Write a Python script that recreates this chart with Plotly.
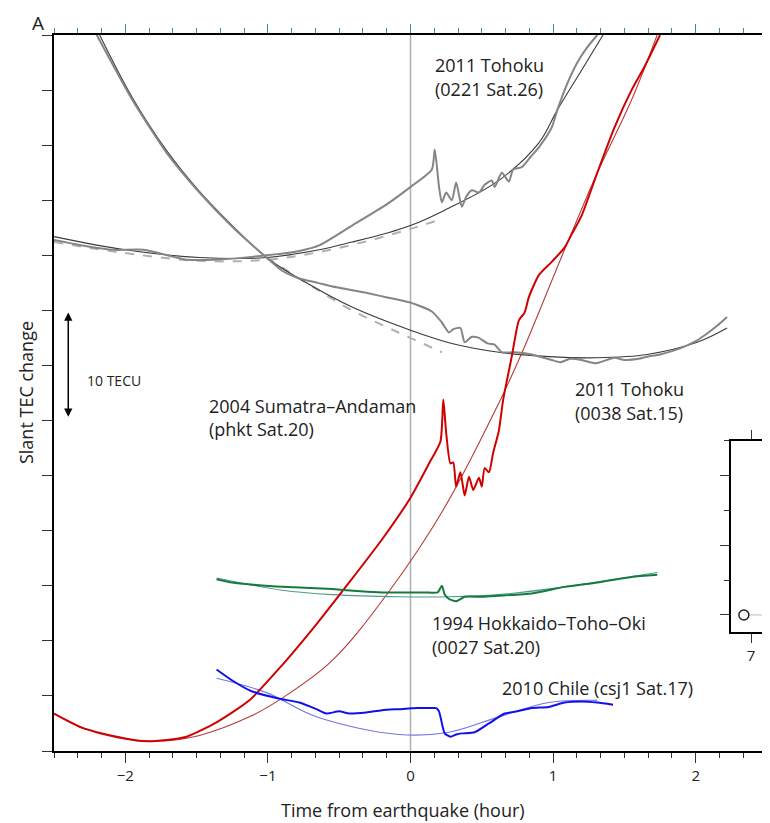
import plotly.graph_objects as go

# ---------------- data (time in hours, slant TEC in TECU) ----------------
# 2011 Tohoku (0221 Sat.26)
toh221_obs_t = [-2.5, -2.3, -2.08, -1.87, -1.57, -1.38, -1.01, -0.78, -0.64, -0.41, -0.17, 0.01, 0.15,
                0.17, 0.20, 0.22, 0.25, 0.29, 0.32, 0.36, 0.39, 0.43, 0.48, 0.52, 0.57, 0.59, 0.64, 0.69,
                0.72, 0.78, 0.84, 0.90, 0.99, 1.03, 1.10, 1.17, 1.24, 1.31]
toh221_obs_y = [46.4, 45.9, 45.5, 45.5, 44.6, 44.6, 45.0, 45.4, 45.9, 47.7, 49.6, 51.3, 52.8,
                54.6, 51.2, 49.8, 50.7, 50.0, 51.6, 49.4, 50.3, 50.9, 50.7, 51.4, 51.8, 51.2, 52.5, 51.7,
                52.8, 53.0, 53.9, 54.8, 56.6, 58.2, 60.6, 62.5, 63.9, 65.0]
toh221_fit_t = [-2.5, -2.0, -1.48, -1.01, -0.64, -0.41, -0.17, 0.0, 0.24, 0.62, 0.90, 1.03, 1.19, 1.35]
toh221_fit_y = [46.7, 45.5, 44.8, 44.8, 45.5, 46.2, 47.0, 47.7, 49.1, 51.8, 55.2, 58.2, 61.6, 65.0]
toh221_ref_t = [-2.5, -2.0, -1.48, -1.0, -0.64, -0.3, 0.0, 0.22]
toh221_ref_y = [46.2, 45.2, 44.5, 44.6, 45.3, 46.3, 47.4, 48.3]

# 2011 Tohoku (0038 Sat.15)
toh038_obs_t = [-2.2, -1.95, -1.71, -1.48, -1.25, -1.01, -0.90, -0.78, -0.65, -0.52, -0.35, -0.17, 0.0,
                0.15, 0.22, 0.27, 0.30, 0.35, 0.38, 0.43, 0.48, 0.54, 0.59, 0.64, 0.73, 0.85, 0.99, 1.05,
                1.12, 1.20, 1.30, 1.43, 1.50, 1.60, 1.66, 1.75, 1.90, 2.00, 2.08, 2.15, 2.22]
toh038_obs_y = [65.0, 59.1, 54.3, 50.7, 47.6, 44.8, 43.6, 42.9, 42.5, 42.1, 41.7, 41.2, 40.7,
                39.9, 38.9, 38.0, 38.3, 38.4, 37.1, 37.6, 37.5, 37.0, 36.9, 36.2, 36.2, 36.0, 35.5, 35.3,
                35.6, 35.5, 35.2, 35.7, 35.5, 35.6, 35.8, 36.0, 36.6, 37.2, 37.9, 38.6, 39.4]
toh038_fit_t = [-2.18, -1.95, -1.71, -1.48, -1.25, -1.01, -0.73, -0.41, 0.0, 0.29, 0.62, 0.97, 1.31,
                1.66, 2.01, 2.22]
toh038_fit_y = [65.0, 59.3, 54.5, 50.8, 47.7, 44.8, 42.5, 40.3, 38.2, 37.0, 36.2, 35.8, 35.7,
                36.0, 37.1, 38.4]
toh038_ref_t = [-1.01, -0.78, -0.41, -0.17, 0.0, 0.22]
toh038_ref_y = [44.8, 42.9, 40.0, 38.5, 37.5, 36.2]

# 2004 Sumatra-Andaman (phkt Sat.20)
sum_obs_t = [-2.5, -2.3, -2.06, -1.88, -1.71, -1.57, -1.36, -1.13, -0.90, -0.66, -0.43, -0.20, 0.0,
             0.13, 0.21, 0.23, 0.25, 0.28, 0.30, 0.32, 0.35, 0.38, 0.41, 0.44, 0.48, 0.50, 0.52,
             0.55, 0.58, 0.62, 0.65, 0.71, 0.76, 0.80, 0.83, 0.90, 0.99, 1.08, 1.13, 1.20, 1.31,
             1.43, 1.55, 1.64, 1.75]
sum_obs_y = [3.4, 2.1, 1.3, 0.9, 1.0, 1.3, 2.6, 4.6, 7.8, 11.5, 15.3, 19.2, 23.0,
             26.1, 28.1, 31.9, 28.9, 26.1, 26.2, 24.0, 25.3, 23.2, 24.9, 23.7, 24.8, 24.0, 25.7,
             25.3, 27.1, 29.1, 31.9, 35.8, 39.1, 39.8, 41.2, 43.2, 44.4, 45.7, 46.9, 48.6, 52.5,
             56.6, 60.0, 62.1, 65.0]
sum_fit_t = [-2.5, -2.3, -2.06, -1.85, -1.65, -1.48, -1.13, -0.90, -0.55, -0.15, 0.23, 0.62,
             0.78, 1.08, 1.31, 1.55, 1.73]
sum_fit_y = [3.4, 2.1, 1.2, 0.9, 1.0, 1.4, 3.1, 4.8, 8.2, 14.5, 21.9, 31.6,
             36.1, 45.5, 52.5, 59.1, 65.0]

# 1994 Hokkaido-Toho-Oki (0027 Sat.20)
hok_obs_t = [-1.36, -1.25, -1.10, -0.90, -0.70, -0.55, -0.35, -0.20, -0.08, 0.10, 0.19, 0.22, 0.24,
             0.27, 0.32, 0.38, 0.50, 0.62, 0.85, 1.08, 1.31, 1.55, 1.73]
hok_obs_y = [15.6, 15.3, 15.1, 14.9, 14.8, 14.7, 14.5, 14.4, 14.4, 14.4, 14.4, 15.0, 14.2,
             13.8, 13.6, 14.0, 14.0, 14.1, 14.3, 14.9, 15.3, 15.8, 16.0]
hok_fit_t = [-1.36, -0.90, -0.55, -0.08, 0.27, 0.62, 1.08, 1.73]
hok_fit_y = [15.7, 14.6, 14.2, 14.0, 14.0, 14.2, 14.9, 16.2]

# 2010 Chile (csj1 Sat.17)
chi_obs_t = [-1.36, -1.25, -1.11, -0.97, -0.90, -0.78, -0.66, -0.59, -0.50, -0.43, -0.31, -0.20, -0.08,
             0.05, 0.15, 0.18, 0.20, 0.24, 0.28, 0.32, 0.36, 0.45, 0.55, 0.66, 0.75, 0.85, 0.97, 1.08,
             1.20, 1.31, 1.42]
chi_obs_y = [7.4, 6.4, 5.4, 4.9, 4.7, 4.4, 3.8, 3.4, 3.6, 3.4, 3.5, 3.7, 3.8,
             3.9, 3.9, 3.9, 3.6, 1.6, 1.3, 1.5, 1.6, 1.7, 2.5, 3.4, 3.6, 3.9, 4.0, 4.4,
             4.5, 4.4, 4.2]
chi_fit_t = [-1.36, -1.01, -0.66, -0.08, 0.27, 0.62, 0.97, 1.31]
chi_fit_y = [6.6, 5.3, 3.1, 1.5, 1.7, 3.1, 4.4, 4.6]

# axis ticks
x_tickvals = [-2, -1, 0, 1, 2]
x_ticktext = ['\u22122', '\u22121', '0', '1', '2']

# inset (partially visible)
inset_pt_x = [6.82]
inset_pt_y = [0]
inset_line_x = [6.95, 7.5]
inset_line_y = [0, 0]

FONT = 'Open Sans'
fig = go.Figure()


def add(x, y, color, width, dash=None, shape='linear', smoothing=1.0):
    line = dict(color=color, width=width, dash=dash, shape=shape)
    if shape == 'spline':
        line['smoothing'] = smoothing
    fig.add_trace(go.Scatter(x=x, y=y, mode='lines', line=line, hoverinfo='skip', showlegend=False))


# dashed reference curves
add(toh221_ref_t, toh221_ref_y, '#b0b0b0', 2, 'dash', 'spline')
add(toh038_ref_t, toh038_ref_y, '#b0b0b0', 2, 'dash', 'spline')
# fits
add(toh221_fit_t, toh221_fit_y, '#3a3a3a', 1.1, None, 'spline')
add(toh038_fit_t, toh038_fit_y, '#3a3a3a', 1.1, None, 'spline')
add(sum_fit_t, sum_fit_y, '#b83a3a', 1.1, None, 'spline')
add(hok_fit_t, hok_fit_y, '#4f9a8c', 1.1, None, 'spline')
add(chi_fit_t, chi_fit_y, '#7474e8', 1.1, None, 'spline')
# observations
add(toh221_obs_t, toh221_obs_y, '#858585', 2, None, 'spline', 0.6)
add(toh038_obs_t, toh038_obs_y, '#858585', 2, None, 'spline', 0.6)
add(sum_obs_t, sum_obs_y, '#d00000', 2, None, 'spline', 0.6)
add(hok_obs_t, hok_obs_y, '#157a3c', 2, None, 'spline', 0.6)
add(chi_obs_t, chi_obs_y, '#1010ee', 2, None, 'spline', 0.6)

# invisible trace to show the top axis
fig.add_trace(go.Scatter(x=[0], y=[0], xaxis='x3', yaxis='y', mode='markers',
                         marker=dict(opacity=0), hoverinfo='skip', showlegend=False))

# inset traces
fig.add_trace(go.Scatter(x=inset_line_x, y=inset_line_y, xaxis='x2', yaxis='y2', mode='lines',
                         line=dict(color='#bbbbbb', width=1), hoverinfo='skip', showlegend=False))
fig.add_trace(go.Scatter(x=inset_pt_x, y=inset_pt_y, xaxis='x2', yaxis='y2', mode='markers',
                         marker=dict(symbol='circle-open', size=10, color='#222',
                                     line=dict(width=1.5, color='#222')),
                         hoverinfo='skip', showlegend=False))

# vertical line at earthquake time
fig.add_shape(type='line', x0=0, x1=0, y0=0, y1=1, xref='x', yref='paper',
              line=dict(color='#b0b0b0', width=1.5), layer='below')

axis_common = dict(showgrid=False, zeroline=False, showline=True, linecolor='black', linewidth=2)

# the page adds an 8px body margin, so the figure is 8px smaller than the window
fig.update_layout(
    width=762, height=815,
    margin=dict(l=46, r=1, t=27, b=72),
    plot_bgcolor='white', paper_bgcolor='white', showlegend=False,
    font=dict(family=FONT, size=15, color='#222'),
    xaxis=dict(domain=[0, 1], anchor='y', range=[-2.5, 2.5], tickvals=x_tickvals, ticktext=x_ticktext,
               ticks='outside', ticklen=10, tickwidth=1.2, tickcolor='#333',
               minor=dict(dtick=1 / 6, tick0=0, ticks='outside', ticklen=5, tickwidth=1, tickcolor='#333'),
               tickfont=dict(size=15, family=FONT), **axis_common),
    xaxis3=dict(overlaying='x', side='top', anchor='y', range=[-2.5, 2.5], tickvals=x_tickvals,
                showticklabels=False, ticks='outside', ticklen=9, tickwidth=1.2, tickcolor='#3b8f8f',
                minor=dict(dtick=1 / 6, tick0=0, ticks='outside', ticklen=5, tickwidth=1, tickcolor='#3b8f8f'),
                **axis_common),
    yaxis=dict(domain=[0, 1], anchor='x', range=[0, 65], dtick=5, tick0=0, showticklabels=False,
               ticks='outside', ticklen=10, tickwidth=1.2, tickcolor='#333', mirror=True, **axis_common),
    xaxis2=dict(domain=[0.9497, 1.0], anchor='y2', range=[6.5, 7.4], tickvals=[7], ticktext=['7'],
                ticks='outside', ticklen=9, tickwidth=1.2, tickcolor='#333', mirror='ticks',
                tickfont=dict(size=15, family=FONT), **axis_common),
    yaxis2=dict(domain=[0.1662, 0.433], anchor='x2', range=[-0.245, 2.5], dtick=1, tick0=0,
                showticklabels=False, ticks='outside', ticklen=9, tickwidth=1.2, tickcolor='#333',
                minor=dict(dtick=0.5, tick0=0, ticks='outside', ticklen=5, tickwidth=1, tickcolor='#333'),
                mirror=True, **axis_common),
)

LBL = dict(family=FONT, size=18, color='#222')


def label(x, y, text, size=18):
    fig.add_annotation(x=x, y=y, xref='x', yref='y', text=text, showarrow=False,
                       xanchor='left', yanchor='middle', font=dict(family=FONT, size=size, color='#222'))


label(0.155, 62.28, '2011 Tohoku')
label(0.155, 60.1, '(0221 Sat.26)')
label(1.14, 32.86, '2011 Tohoku')
label(1.14, 30.69, '(0038 Sat.15)')
label(-1.425, 31.32, '2004 Sumatra\u2013Andaman')
label(-1.425, 29.23, '(phkt Sat.20)')
label(0.135, 11.62, '1994 Hokkaido\u2013Toho\u2013Oki')
label(0.135, 9.44, '(0027 Sat.20)')
label(0.63, 5.72, '2010 Chile (csj1 Sat.17)')
label(-2.285, 33.59, '10 TECU', size=14)

# 10 TECU scale arrow
fig.add_annotation(x=-2.40, y=39.8, ax=-2.40, ay=30.2, xref='x', yref='y', axref='x', ayref='y',
                   text='', showarrow=True, arrowside='end+start', arrowhead=2, arrowsize=1.1,
                   arrowwidth=1.5, arrowcolor='black')

# panel letter and axis titles
fig.add_annotation(x=-0.0224, y=1.0377, xref='paper', yref='paper', text='A', showarrow=False,
                   xanchor='center', yanchor='top', font=dict(family=FONT, size=19, color='#222'))
fig.add_annotation(x=-0.05, y=-0.0824, xref='x', yref='paper', text='Time from earthquake (hour)',
                   showarrow=False, xanchor='center', yanchor='middle', font=LBL)
fig.add_annotation(x=-0.0392, y=0.5, xref='paper', yref='paper', text='Slant TEC change', textangle=-90,
                   showarrow=False, xanchor='center', yanchor='middle', font=LBL)

fig.write_html('out.html')
